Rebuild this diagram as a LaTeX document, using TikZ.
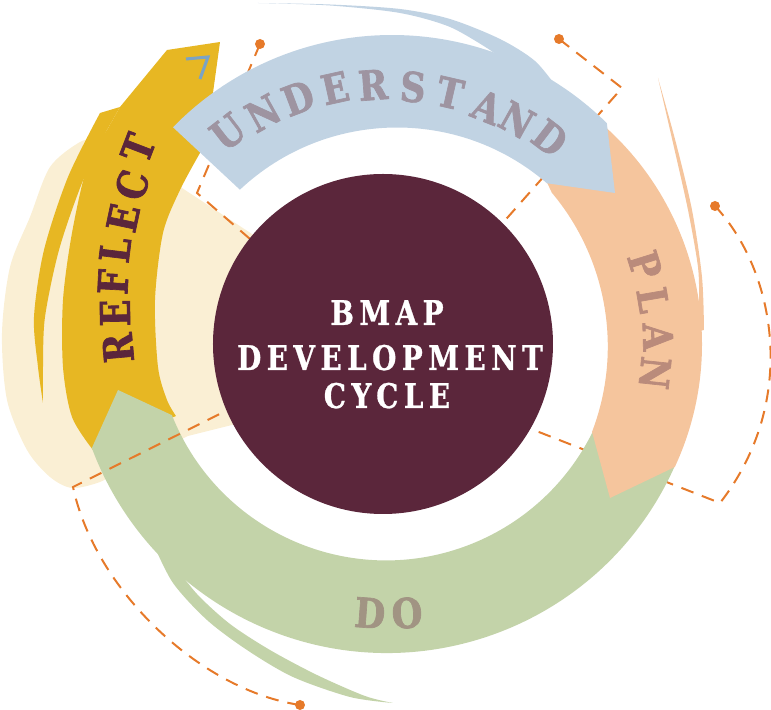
\documentclass[tikz,border=0pt]{standalone}
\usepackage{fontspec}
\setmainfont{DejaVu Serif}
\newfontfamily\ringfont{DejaVu Serif}[UprightFont={* Bold}, FakeStretch=0.86, FakeBold=1.6]
\newfontfamily\titlefont{DejaVu Serif}[UprightFont={* Bold}, FakeStretch=0.82, FakeBold=0.8, LetterSpace=16]
\usepackage{tikz}
\usetikzlibrary{calc}

\definecolor{bmapplum}{HTML}{5B263B}
\definecolor{bandblue}{HTML}{C1D3E3}
\definecolor{bandpeach}{HTML}{F5C59D}
\definecolor{bandgreen}{HTML}{C3D3A9}
\definecolor{bandyellow}{HTML}{E7B723}
\definecolor{creamfill}{HTML}{FAEFD4}
\definecolor{guideorange}{HTML}{E67A2A}
\definecolor{markblue}{HTML}{7BA3C4}
\definecolor{understandtxt}{HTML}{9E94A1}
\definecolor{plantxt}{HTML}{BA8B7B}
\definecolor{dotxt}{HTML}{A19483}

\begin{document}
\begin{tikzpicture}[x=0.03cm, y=0.03cm,
    ringtext/.style={font=\ringfont\fontsize{35}{35}\selectfont, inner sep=0pt},
    titletext/.style={font=\titlefont\fontsize{29}{29}\selectfont, text=white, inner sep=0pt, anchor=base},
    guide/.style={draw=guideorange, line width=1.7pt, dash pattern=on 11pt off 7.7pt},
    guidedot/.style={fill=guideorange}]

    \useasboundingbox (-383,-366) rectangle (388,344);

    % cream backdrop behind the reflect arrow
    \fill[creamfill] plot[smooth] coordinates {(-283,206) (-303,202) (-333,177) (-353,127) (-373,77) (-381,11)
        (-376,-56) (-356,-106) (-333,-133) (-311,-144) (-283,-138) (-263,-126)}
        -- (-195,-92) -- (-143,-79) -- (-60,0) -- (-128,108) -- (-201,156) -- (-233,204) -- cycle;

    % dashed guides that run under the ring
    \coordinate (dotA) at (-123,300);
    \coordinate (kneeA) at (-186,151);
    \coordinate (endA) at (-103,79);
    \coordinate (dotB) at (176,305);
    \coordinate (kneeB) at (239,256);
    \coordinate (endB) at (87,84);
    \coordinate (dotC) at (332,138);
    \coordinate (kneeC) at (337,-159);
    \coordinate (endC) at (87,-61);
    \draw[guide] (dotA) -- (kneeA) -- (endA);
    \draw[guide] (dotB) -- (kneeB) -- (endB);
    \draw[guide] (dotC) .. controls (392,74) and (417,-56) .. (kneeC) -- (endC);
    \fill[guidedot] (dotA) circle (5);
    \fill[guidedot] (dotB) circle (5);
    \fill[guidedot] (dotC) circle (5);

    % reflect (yellow)
    \fill[bandyellow] plot[smooth] coordinates {(-276,214) (-301,161) (-324,94) (-338,27) (-340,-23) (-340,-59)}
        -- plot[smooth] coordinates {(-340,-59) (-345,-23) (-349,27) (-339,94) (-315,167) (-283,231)}
        -- (-263,237) -- cycle;
    \fill[bandyellow] plot[smooth] coordinates {(-290,-106) (-311,-73) (-320,-23) (-320,44) (-311,111) (-296,177) (-276,214)}
        -- (-263,237) -- (-216,294) -- (-163,302) -- (-171,244)
        -- plot[smooth] coordinates {(-183,191) (-203,154) (-220,111) (-228,44) (-225,-23) (-216,-56) (-207,-72)} -- cycle;

    % do (green)
    \fill[bandgreen] plot[smooth] coordinates {(10,-359) (-33,-353) (-90,-333) (-136,-306) (-176,-276) (-210,-239) (-230,-199)}
        -- (-215,-195) -- (-211,-218)
        -- plot[smooth] coordinates {(-211,-218) (-186,-250) (-153,-280) (-113,-306) (-66,-331) (-18,-352) (10,-359)} -- cycle;
    \fill[bandgreen] ([shift={(4,6)}]-23.5:315) arc[start angle=-23.5, end angle=-159.55, radius=315]
        -- (-265,-46)
        -- ([shift={(3,14)}]-158.3:230.4) arc[start angle=-158.3, end angle=-25, radius=230.4] -- cycle;

    % plan (peach)
    \fill[bandpeach] ([shift={(27,0)}]52:292) arc[start angle=52, end angle=-24.9, radius=292]
        -- (227,-154)
        -- ([shift={(-14.5,-2.5)}]-20.9:239.3) arc[start angle=-20.9, end angle=40, radius=239.3]
        -- (160,170) -- cycle;
    \fill[bandpeach] plot[smooth] coordinates {(275,266) (293,201) (309,134) (319,67) (321,14)}
        -- (305,10) -- (316,44)
        -- plot[smooth] coordinates {(316,44) (315,77) (305,134) (290,201) (275,266)} -- cycle;

    % understand (blue)
    \fill[bandblue] plot[smooth] coordinates {(-125,341) (-53,339.5) (17,335) (67,325) (117,305) (152,283) (175,255)}
        -- (140,270) -- (107,294)
        -- plot[smooth] coordinates {(107,294) (67,317) (17,331) (-53,338.5) (-125,341)} -- cycle;
    \fill[bandblue] ([shift={(9,3)}]135.7:306) arc[start angle=135.7, end angle=45.4, radius=306]
        -- (232,151)
        -- ([shift={(14,-13)}]49.2:229.5) arc[start angle=49.2, end angle=133.2, radius=229.5] -- cycle;

    \draw[markblue, line width=2.6pt] (-197,285) -- (-175,287) -- (-183,265);

    % guide drawn over the green arrow
    \coordinate (dotD) at (-83,-361);
    \coordinate (kneeD) at (-310,-143);
    \coordinate (endD) at (-103,-40);
    \draw[guide] (dotD) .. controls (-183,-346) and (-288,-246) .. (kneeD) -- (endD);
    \fill[guidedot] (dotD) circle (5);

    % centre
    \fill[bmapplum] (0,0) circle (170);
    \node[titletext] (titleA) at (4,19) {BMAP};
    \node[titletext] (titleB) at (7,-26) {DEVELOPMENT};
    \node[titletext] (titleC) at (4,-64) {CYCLE};

    % ring labels
    \foreach \ch/\x/\y/\r [count=\i] in {U/-155/212/37.6, N/-120/231/29.1, D/-85/246/20.8, E/-48/256/12.5,
        R/-10/259/4.2, S/30/257/-4.7, T/67/251/-13, A/104/237/-21.8, N/134/224/-29.1, D/167/206/-37.4}
        \node[ringtext, text=understandtxt, rotate=\r] (und\i) at (\x,\y) {\ch};
    \foreach \ch/\x/\y/\r [count=\i] in {P/262/79/-72.6, L/270/44/-80.3, A/275/7/-88.3, N/272/-29/-96}
        \node[ringtext, text=plantxt, rotate=\r] (plan\i) at (\x,\y) {\ch};
    \foreach \ch/\x/\y/\r [count=\i] in {D/-13/-269/-4.3, O/24/-269/3.6}
        \node[ringtext, text=dotxt, rotate=\r] (do\i) at (\x,\y) {\ch};
    \foreach \ch/\x/\y/\r [count=\i] in {R/-265/-4/95, E/-268/31/91, F/-270/62/87, L/-268/94/83,
        E/-260/126/78, C/-251/159/73, T/-245/196/69}
        \node[ringtext, text=bmapplum, rotate=\r] (refl\i) at (\x,\y) {\ch};
\end{tikzpicture}
\end{document}
